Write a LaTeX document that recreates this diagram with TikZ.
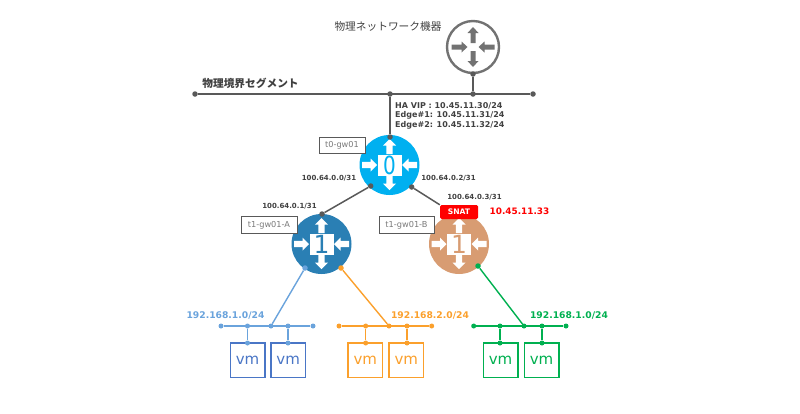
\documentclass[tikz,border=0pt]{standalone}
\usepackage{fontspec}
\usepackage{xcolor}
\setmainfont{DejaVu Sans}
\newfontfamily\cjk{Noto Sans CJK JP}
\usetikzlibrary{arrows.meta, positioning}
\definecolor{wire}{HTML}{595959}
\definecolor{labelgray}{HTML}{404040}
\definecolor{tzero}{HTML}{00B0F0}
\definecolor{tonea}{HTML}{2A7FB4}
\definecolor{toneb}{HTML}{D89C72}
\definecolor{lanblue}{HTML}{6AA3DC}
\definecolor{vmblue}{HTML}{4A76C6}
\definecolor{lanorange}{HTML}{FBA02C}
\definecolor{langreen}{HTML}{00B050}
\newcommand{\pxfont}[1]{\fontsize{#1}{#1}\selectfont}
% block arrow pointing along +x: half length, head length, half shaft, half head
\tikzset{pics/blockarrow/.style n args={4}{code={
  \pgfmathsetmacro{\neck}{#1-#2}
  \fill[pic actions] (-#1,-#3) -- (\neck,-#3) -- (\neck,-#4) -- (#1,0) -- (\neck,#4) -- (\neck,#3) -- (-#1,#3) -- cycle;
}}}
% tier router: name, x, y, colour, numeral
\newcommand{\tierrouter}[5]{
  \node[circle, fill=#4, minimum size=60pt, inner sep=0pt] (#1) at (#2,#3) {};
  \foreach \dx/\dy/\r in {0/-17.5/-90, 0/18.5/90, -20/0/0, 20/0/180}
    \pic[fill=white, rotate=\r] at ([shift={(\dx pt,\dy pt)}]#1.center) {blockarrow={7.5}{6.5}{3.2}{6.5}};
  \node[numbox, text=#4] (#1-num) at (#1.center) {#5};
}
\begin{document}
\begin{tikzpicture}[x=1pt, y=-1pt,
  dotn/.style={circle, fill=#1, minimum size=5.5pt, inner sep=0pt},
  numbox/.style={fill=white, minimum width=24pt, minimum height=21pt, inner sep=0pt,
    font=\pxfont{25}},
  namebox/.style={draw=wire, fill=white, line width=1pt, text=wire!80, inner sep=0pt,
    minimum height=16.5pt, font=\pxfont{8.2}},
  addr/.style={text=labelgray, inner sep=0pt, font=\pxfont{7}\bfseries},
  lanaddr/.style={inner sep=0pt, font=\pxfont{9.2}\bfseries},
  vmbox/.style={draw=#1, fill=white, text=#1, line width=1.5pt, minimum width=34.5pt,
    minimum height=34.5pt, inner sep=0pt, font=\pxfont{15}}]
  \useasboundingbox (0,0) rectangle (800,413);

  % physical side
  \node[circle, draw=wire!85, fill=white, line width=2.4pt, minimum size=52pt, inner sep=0pt] (phy) at (473,47) {};
  \foreach \dx/\dy/\r in {0/-12/-90, 0/12/90, -13.5/0/0, 13.5/0/180}
    \pic[fill=wire!85, rotate=\r] at ([shift={(\dx pt,\dy pt)}]phy.center) {blockarrow={8}{6}{2.5}{5.5}};
  \node[inner sep=0pt, text=labelgray, font=\cjk\pxfont{10.7}] (phylabel) at (388,26) {物理ネットワーク機器};
  \node[inner sep=0pt, text=labelgray, font=\cjk\bfseries\pxfont{10.7}] (seglabel) at (250.5,83) {物理境界セグメント};
  \foreach \n/\x in {sega/195, segb/390, segc/473, segd/533}
    \node[dotn=wire] (\n) at (\x,94) {};
  \node[dotn=wire] (phyd) at (473,74) {};
  \draw[wire, line width=1.5pt] (sega) -- (segd);
  \draw[wire, line width=1.5pt] (phyd) -- (segc);

  % tier routers
  \tierrouter{tz}{389.5}{165}{tzero}{\scalebox{.8}[1]{0}}
  \tierrouter{ta}{321.5}{244}{tonea}{1}
  \tierrouter{tb}{459}{244}{toneb}{1}
  \node[dotn=wire] (tzt) at (390,137) {};
  \node[dotn=wire] (tzl) at (370.7,186) {};
  \node[dotn=wire] (tzr) at (411.7,187) {};
  \node[dotn=wire] (tat) at (322,214) {};
  \draw[wire, line width=1.5pt] (segb) -- (tzt);
  \draw[wire, line width=1.5pt] (tzl) -- (tat);
  \node[fill=red, text=white, rounded corners=1.5pt, minimum width=38pt, minimum height=14pt, inner sep=0pt,
    font=\pxfont{7.6}\bfseries] (snat) at (459,212) {SNAT};
  \draw[wire, line width=1.5pt] (tzr) -- (snat.north west);

  \node[namebox, minimum width=46pt] (tzname) at (342,145.5) {t0-gw01};
  \node[namebox, minimum width=56pt] (taname) at (269,225) {t1-gw01-A};
  \node[namebox, minimum width=55pt] (tbname) at (406.5,225) {t1-gw01-B};

  \node[addr, font=\fontsize{8}{9.7}\selectfont\bfseries, anchor=north west, align=left] (vip) at (395,102)
    {HA VIP : 10.45.11.30/24\\Edge\#1: 10.45.11.31/24\\Edge\#2: 10.45.11.32/24};
  \node[addr] (ipa) at (329,178) {100.64.0.0/31};
  \node[addr] (ipb) at (448.5,178) {100.64.0.2/31};
  \node[addr] (ipc) at (289.5,206) {100.64.0.1/31};
  \node[addr] (ipd) at (474.5,197) {100.64.0.3/31};
  \node[inner sep=0pt, text=red, font=\pxfont{8.9}\bfseries] (snatip) at (519.5,211.5) {10.45.11.33};

  % tenant segments
  \foreach \net/\clr/\bclr/\xa/\xb/\xc/\xd/\xe/\va/\vb in {
      la/lanblue/vmblue/221/247.5/271/288/313/247.5/288.2,
      lb/lanorange/lanorange/339/365.7/389/407/431.7/365.3/406.3,
      lc/langreen/langreen/473.7/500/524/542/566/500.5/541.5} {
    \foreach \n/\x in {a/\xa, b/\xb, c/\xc, d/\xd, e/\xe}
      \node[dotn=\clr, minimum size=5pt] (\net-\n) at (\x,326) {};
    \draw[\clr, line width=1.4pt] (\net-a) -- (\net-e);
    \node[vmbox=\bclr] (\net-vma) at (\va,360) {vm};
    \node[vmbox=\bclr] (\net-vmb) at (\vb,360) {vm};
    \node[dotn=\clr, minimum size=5pt] (\net-ta) at (\xb,343) {};
    \node[dotn=\clr, minimum size=5pt] (\net-tb) at (\xd,343) {};
    \draw[\clr, line width=1.4pt] (\net-b) -- (\net-ta);
    \draw[\clr, line width=1.4pt] (\net-d) -- (\net-tb);
  }
  \node[dotn=lanblue] (tal) at (305,268) {};
  \node[dotn=lanorange] (tar) at (341,268) {};
  \node[dotn=langreen] (tbr) at (478,266) {};
  \draw[lanblue, line width=1.4pt] (tal) -- (la-c);
  \draw[lanorange, line width=1.4pt] (tar) -- (lb-c);
  \draw[langreen, line width=1.4pt] (tbr) -- (lc-c);
  \node[lanaddr, text=lanblue] (ada) at (225.5,315.7) {192.168.1.0/24};
  \node[lanaddr, text=lanorange] (adb) at (430,315.7) {192.168.2.0/24};
  \node[lanaddr, text=langreen] (adc) at (569,315.7) {192.168.1.0/24};
\end{tikzpicture}
\end{document}
